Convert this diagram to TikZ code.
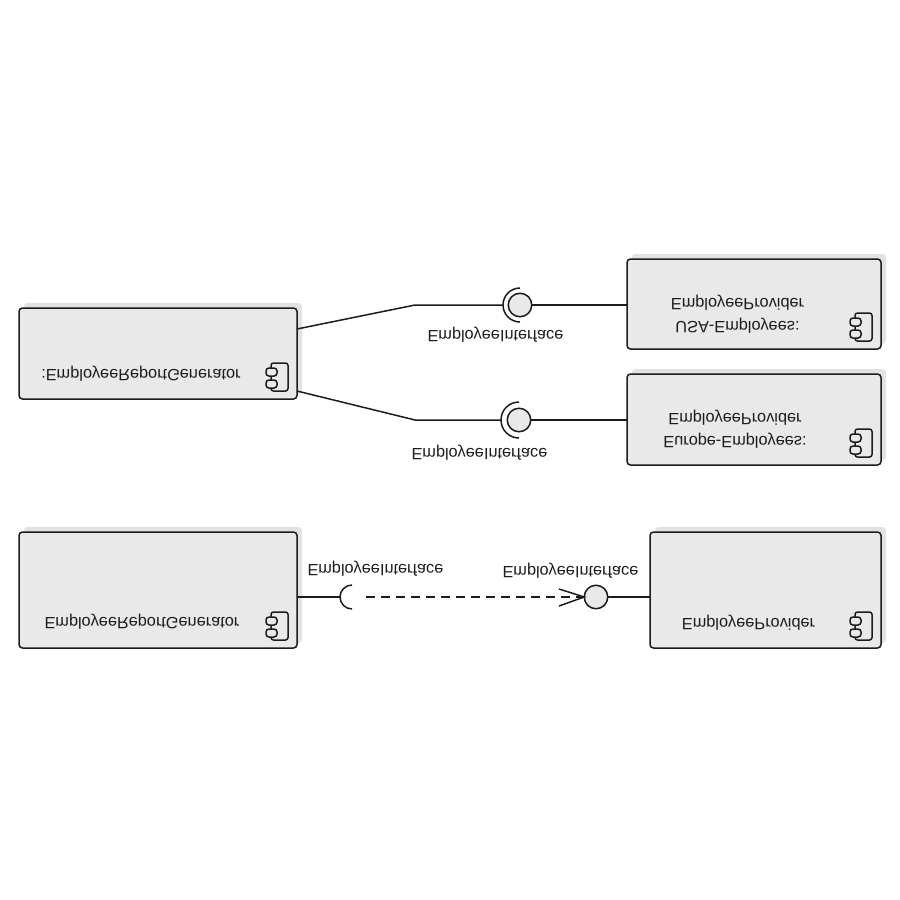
\documentclass[tikz,border=0pt]{standalone}
\usepackage{fontspec}
\setmainfont{Liberation Sans}
\usetikzlibrary{calc,backgrounds}
\definecolor{boxfill}{HTML}{E9E9E9}
\definecolor{shadowfill}{HTML}{E2E2E2}
\definecolor{inkc}{HTML}{1C1C1C}
\tikzset{
  comp/.style={draw=inkc,line width=1.5pt,fill=boxfill,rounded corners=3.5pt,inner sep=0pt,outer sep=0pt},
  shadowbox/.style={fill=shadowfill,rounded corners=3.5pt},
  lbl/.style={yscale=-1,font=\fontsize{16.3}{23}\selectfont,text=inkc,align=center,inner sep=0pt},
  ball/.style={circle,draw=inkc,line width=1.5pt,fill=boxfill,inner sep=0pt,outer sep=0pt,minimum size=23.5pt},
  wire/.style={draw=inkc,line width=1.5pt},
  ico/.style={draw=inkc,line width=1.5pt,rounded corners=2.5pt},
  lobe/.style={draw=inkc,line width=1.5pt,rounded corners=3pt,fill=boxfill}
}
\newcommand{\compicon}[1]{%
  \begin{pgfonlayer}{background}
    \fill[shadowbox] ($(#1.north west)+(5,-5)$) rectangle ($(#1.south east)+(5,-5)$);
  \end{pgfonlayer}
  \draw[ico] ($(#1.south east)+(-26,-36)$) rectangle ($(#1.south east)+(-9,-8)$);
  \draw[lobe] ($(#1.south east)+(-31,-31)$) rectangle ($(#1.south east)+(-20,-23)$);
  \draw[lobe] ($(#1.south east)+(-31,-19)$) rectangle ($(#1.south east)+(-20,-11)$);
}
\begin{document}
\begin{tikzpicture}[x=1pt,y=-1pt]
\useasboundingbox (0,0) rectangle (900,900);
% boxes
\node[comp,anchor=north west,minimum width=278pt,minimum height=91pt] (gen1) at (19,308) {};
\node[comp,anchor=north west,minimum width=254pt,minimum height=90pt] (usa) at (627,259) {};
\node[comp,anchor=north west,minimum width=254pt,minimum height=91pt] (eur) at (627,374) {};
\node[comp,anchor=north west,minimum width=278pt,minimum height=116pt] (gen2) at (19,532) {};
\node[comp,anchor=north west,minimum width=231pt,minimum height=116pt] (prov) at (650,532) {};
\compicon{gen1}\compicon{usa}\compicon{eur}\compicon{gen2}\compicon{prov}
% box texts
\node[lbl] (t1) at (141,373.5) {:EmployeeReportGenerator};
\node[lbl] (t2) at (737.5,314) {USA-Employees:\\EmployeeProvider};
\node[lbl] (t3) at (735,429.5) {Europe-Employees:\\EmployeeProvider};
\node[lbl] (t4) at (142,621.5) {EmployeeReportGenerator};
\node[lbl] (t5) at (748.5,622.5) {EmployeeProvider};
% upper lollipops
\node[ball] (b1) at (520,305) {};
\node[ball] (b2) at (519,420) {};
\coordinate (s1) at (502.5,305);
\coordinate (s2) at (501,420);
\coordinate (g1a) at (297,329);
\coordinate (g1b) at (297,391);
\coordinate (k1) at (415,305);
\coordinate (k2) at (415,420);
\draw[wire] (g1a) -- (k1) -- (s1);
\draw[wire] (g1b) -- (k2) -- (s2);
\draw[wire] (b1.east) -- (b1.east -| usa.west);
\draw[wire] (b2.east) -- (b2.east -| eur.west);
\draw[wire] (b1.center) ++(0,17) arc[start angle=-90,end angle=-270,radius=17pt];
\draw[wire] (b2.center) ++(0,18) arc[start angle=-90,end angle=-270,radius=18pt];
\node[lbl] (l1) at (495.5,334.5) {EmployeeInterface};
\node[lbl] (l2) at (479.5,452.5) {EmployeeInterface};
% lower pair
\node[ball] (b3) at (596,597) {};
\coordinate (s3c) at (352,597);
\coordinate (s3) at (340,597);
\coordinate (g2a) at (297,597);
\draw[wire] (g2a) -- (s3);
\draw[wire] (s3c) ++(0,12) arc[start angle=-90,end angle=-270,radius=12pt];
\draw[wire] (b3.east) -- (b3.east -| prov.west);
\coordinate (d3) at (366,597);
\draw[wire,dash pattern=on 9pt off 6pt] (d3) -- (b3.west);
\draw[wire] (559,589) -- (b3.west) -- (559,606);
\node[lbl] (l3) at (375.5,568.5) {EmployeeInterface};
\node[lbl] (l4) at (570.5,570.5) {EmployeeInterface};
\end{tikzpicture}
\end{document}
